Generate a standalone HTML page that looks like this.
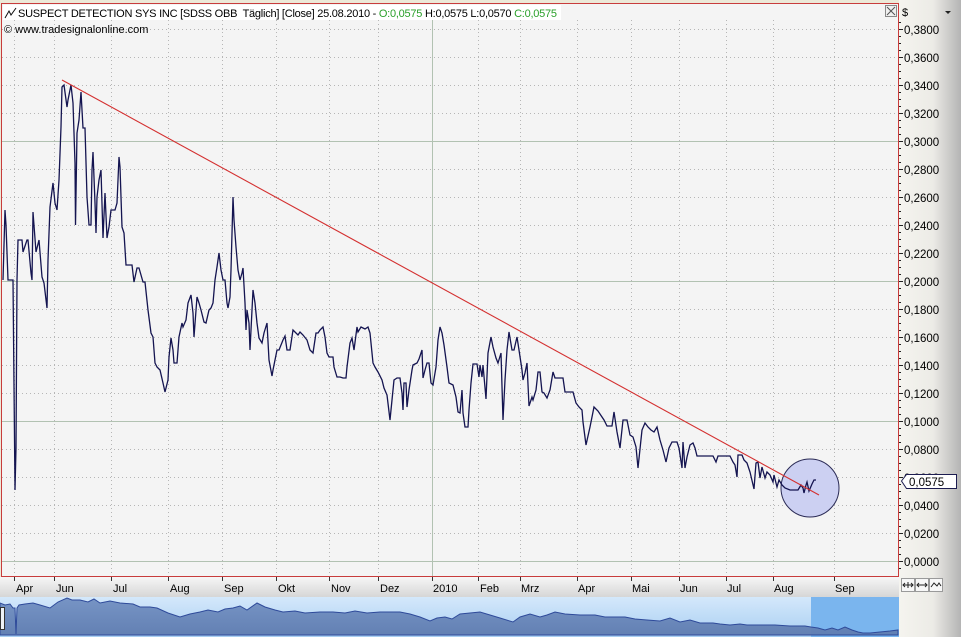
<!DOCTYPE html>
<html><head><meta charset="utf-8"><style>
html,body{margin:0;padding:0;background:#ece9d8;}
svg{display:block;font-family:"Liberation Sans","DejaVu Sans",sans-serif;}
</style></head><body>
<svg width="961" height="637" viewBox="0 0 961 637" xmlns="http://www.w3.org/2000/svg">
<defs>
<linearGradient id="rax" x1="0" y1="0" x2="1" y2="0">
<stop offset="0" stop-color="#f5f4ef"/><stop offset="0.55" stop-color="#ecebe6"/><stop offset="1" stop-color="#b4b4b4"/>
</linearGradient>
<linearGradient id="xax" x1="0" y1="0" x2="0" y2="1">
<stop offset="0" stop-color="#f6f6f6"/><stop offset="1" stop-color="#d6d6d6"/>
</linearGradient>
<linearGradient id="nav" x1="0" y1="0" x2="0" y2="1">
<stop offset="0" stop-color="#d4e8fb"/><stop offset="1" stop-color="#a9cff2"/>
</linearGradient>
<linearGradient id="navfill" x1="0" y1="0" x2="0" y2="1">
<stop offset="0" stop-color="#7290c2"/><stop offset="1" stop-color="#5f7cb0"/>
</linearGradient>
</defs>
<rect x="0" y="0" width="961" height="637" fill="#ece9d8"/>
<rect x="1" y="3" width="898" height="574" fill="#f4f4f4"/>
<rect x="899" y="0" width="62" height="637" fill="url(#rax)"/>
<rect x="3" y="5" width="558" height="15" fill="#ffffff"/>
<g stroke="#b6b6b6" stroke-width="1" stroke-dasharray="1,3">
<line x1="2" y1="29.5" x2="898" y2="29.5"/><line x1="2" y1="57.5" x2="898" y2="57.5"/>
<line x1="2" y1="85.5" x2="898" y2="85.5"/><line x1="2" y1="113.5" x2="898" y2="113.5"/>
<line x1="2" y1="169.5" x2="898" y2="169.5"/><line x1="2" y1="197.5" x2="898" y2="197.5"/>
<line x1="2" y1="225.5" x2="898" y2="225.5"/><line x1="2" y1="253.5" x2="898" y2="253.5"/>
<line x1="2" y1="309.5" x2="898" y2="309.5"/><line x1="2" y1="337.5" x2="898" y2="337.5"/>
<line x1="2" y1="365.5" x2="898" y2="365.5"/><line x1="2" y1="393.5" x2="898" y2="393.5"/>
<line x1="2" y1="449.5" x2="898" y2="449.5"/><line x1="2" y1="477.5" x2="898" y2="477.5"/>
<line x1="2" y1="505.5" x2="898" y2="505.5"/><line x1="2" y1="533.5" x2="898" y2="533.5"/>
</g>
<g stroke="#b6b6b6" stroke-width="1" stroke-dasharray="1,3">
<line x1="14.5" y1="20" x2="14.5" y2="576"/><line x1="54.5" y1="20" x2="54.5" y2="576"/>
<line x1="111.5" y1="20" x2="111.5" y2="576"/><line x1="168.5" y1="20" x2="168.5" y2="576"/>
<line x1="222.5" y1="20" x2="222.5" y2="576"/><line x1="276.5" y1="20" x2="276.5" y2="576"/>
<line x1="329.5" y1="20" x2="329.5" y2="576"/><line x1="378.5" y1="20" x2="378.5" y2="576"/>
<line x1="478.5" y1="20" x2="478.5" y2="576"/><line x1="520.5" y1="20" x2="520.5" y2="576"/>
<line x1="577.5" y1="20" x2="577.5" y2="576"/><line x1="631.5" y1="20" x2="631.5" y2="576"/>
<line x1="679.5" y1="20" x2="679.5" y2="576"/><line x1="726.5" y1="20" x2="726.5" y2="576"/>
<line x1="773.5" y1="20" x2="773.5" y2="576"/><line x1="834.5" y1="20" x2="834.5" y2="576"/>
</g>
<g stroke="#b2c2b2" stroke-width="1">
<line x1="2" y1="141.5" x2="898" y2="141.5"/><line x1="2" y1="281.5" x2="898" y2="281.5"/>
<line x1="2" y1="421.5" x2="898" y2="421.5"/><line x1="2" y1="561.5" x2="898" y2="561.5"/>
<line x1="432.5" y1="20" x2="432.5" y2="576"/>
</g>
<!-- circle (behind line) -->
<circle cx="810" cy="488" r="29" fill="#ccd0f2" stroke="#2a2a55" stroke-width="1"/>
<!-- price series -->
<polyline fill="none" stroke="#141450" stroke-width="1.3" stroke-linejoin="miter" points="
3,280 5,210 6,225 8,280 13,280 15,490 16,448 17,280 18,240 22,240 23,252 27,240 28,240 31,273 32,280 33,212 36,252 39,240 42,277 44,283 47,308 48,260 50,207 53,183 55,203 57,210 59,180 61,127 62,87 64,85 67,107 68,100 71,85 73,103 75,163 75.5,225 77,133 79,120 81,92 83,128 85,128 87,197 89,225 91,225 92,170 93,152 95,203 96,233 97,197 99,180 101,170 103,238 105,193 107,238 109,227 111,210 115,210 117,203 119,157 120,167 122,227 124,233 126,265 130,265 132,265 134,282 137,268 139,268 143,282 145,282 148,310 151,333 153,337 155,363 157,367 160,370 163,383 165,392 168,380 169,357 171,338 173,350 174,363 177,363 179,337 182,323 183,327 186,320 188,303 191,295 193,313 194,337 197,297 199,303 201,310 204,322 206,323 209,310 211,308 213,303 215,280 217,267 219,253 221,270 223,280 225,280 227,303 228,308 230,297 231,270 233,197 234,220 236,247 238,270 240,280 242,273 243,268 245,303 246,330 247,310 249,323 250,350 252,310 253,290 255,303 257,323 259,338
262,343 264,333 267,323 269,360 272,376 273,370 277,350 279,350 283,340 285,336 287,350 290,350 293,330 296,333 298,335 300,332 303,335 307,340 310,350 313,353 316,333 318,333 320,330 323,327 325,337 327,353 329,357 333,357 334,367 337,377 340,377 343,378 346,378 347,367 350,343 352,338 354,350 357,327 358,332 361,327 363,328 365,329 368,327 370,333 373,363 375,367 378,372 382,380 384,388 387,395 390,420 392,400 394,380 397,378 400,378 402,393 403,410 404,383 406,383 407,407 409,390 412,370 413,365 417,363 419,359 422,350 423,378 425,370 427,363 429,363 431,383 433,385 436,367 438,340 440,327 442,333 444,345 447,367 449,383 453,385 456,397 458,412 460,413 462,390 463,413 465,427 468,427 469,410 471,383 473,364 477,364 479,377 480,365 482,377 483,365 486,399 488,353 491,337 493,347 496,358 498,363 501,353 503,420 505,380 507,350 509,332 512,350 514,350 517,337 519,350 522,370 523,380 525,373 527,363 529,406 532,397 533,400 536,390 538,372 540,372 542,392 544,393 547,398 550,390 553,372 555,378 563,378 565,392 573,392 576,403 579,407 582,410 583,422 586,445 590,427 594,407 598,411 602,417 604,420 607,426 612,426 614,412 617,432 620,448 623,420 627,420 630,435 633,437 636,447 638,468 642,430 645,423 648,427 651,430 654,432 657,427 660,440 663,450 666,462 669,448 672,442 677,442 679,448 682,468 683,442 685,468 687,457 690,445 693,443 695,448 697,456 713,456 716,462 718,456 730,456 733,462 735,465 737,477 738,455 742,455 744,460 747,463 750,472 754,489 756,463 758,462 760,478 762,467 765,478 767,472 770,475 773,482 774,475 777,487 779,480 782,485 785,488 790,490 798,490 801,485 803,488 804,493 806,485 807,482 809,491 812,484 814,480 816,480"/>
<line x1="62" y1="80" x2="819" y2="495" stroke="#d43030" stroke-width="1.1"/>
<rect x="1.5" y="3.5" width="897" height="573" fill="none" stroke="#c83c3c" stroke-width="1"/>
<!-- title -->
<path d="M5,18 L9,11 L11,15 L16,8" fill="none" stroke="#101010" stroke-width="1"/>
<text x="18" y="17" font-size="11" fill="#000" textLength="539" lengthAdjust="spacing" style="white-space:pre">SUSPECT DETECTION SYS INC [SDSS OBB  Täglich] [Close] 25.08.2010 - <tspan fill="#2aa02a">O:0,0575</tspan> H:0,0575 L:0,0570 <tspan fill="#2aa02a">C:0,0575</tspan></text>
<text x="4" y="33" font-size="11" fill="#000">© www.tradesignalonline.com</text>
<rect x="885.5" y="5.5" width="11" height="11" fill="#f0f0f0" stroke="#888"/>
<path d="M887,7 L895,15 M895,7 L887,15" stroke="#555" stroke-width="1"/>
<text x="902" y="16" font-size="11" fill="#000">$</text>
<path d="M945,11 L951,11 L948,14 Z" fill="#222"/>
<g stroke="#222" stroke-width="1">
<line x1="899" y1="29.5" x2="903" y2="29.5"/><line x1="899" y1="57.5" x2="903" y2="57.5"/><line x1="899" y1="85.5" x2="903" y2="85.5"/><line x1="899" y1="113.5" x2="903" y2="113.5"/><line x1="899" y1="141.5" x2="903" y2="141.5"/><line x1="899" y1="169.5" x2="903" y2="169.5"/><line x1="899" y1="197.5" x2="903" y2="197.5"/><line x1="899" y1="225.5" x2="903" y2="225.5"/><line x1="899" y1="253.5" x2="903" y2="253.5"/><line x1="899" y1="281.5" x2="903" y2="281.5"/><line x1="899" y1="309.5" x2="903" y2="309.5"/><line x1="899" y1="337.5" x2="903" y2="337.5"/><line x1="899" y1="365.5" x2="903" y2="365.5"/><line x1="899" y1="393.5" x2="903" y2="393.5"/><line x1="899" y1="421.5" x2="903" y2="421.5"/><line x1="899" y1="449.5" x2="903" y2="449.5"/><line x1="899" y1="477.5" x2="903" y2="477.5"/><line x1="899" y1="505.5" x2="903" y2="505.5"/><line x1="899" y1="533.5" x2="903" y2="533.5"/><line x1="899" y1="561.5" x2="903" y2="561.5"/>
</g>
<g stroke="#222" stroke-width="1">
<line x1="899" y1="22.5" x2="901" y2="22.5"/><line x1="899" y1="36.5" x2="901" y2="36.5"/><line x1="899" y1="43.5" x2="901" y2="43.5"/><line x1="899" y1="50.5" x2="901" y2="50.5"/><line x1="899" y1="64.5" x2="901" y2="64.5"/><line x1="899" y1="71.5" x2="901" y2="71.5"/><line x1="899" y1="78.5" x2="901" y2="78.5"/><line x1="899" y1="92.5" x2="901" y2="92.5"/><line x1="899" y1="99.5" x2="901" y2="99.5"/><line x1="899" y1="106.5" x2="901" y2="106.5"/><line x1="899" y1="120.5" x2="901" y2="120.5"/><line x1="899" y1="127.5" x2="901" y2="127.5"/><line x1="899" y1="134.5" x2="901" y2="134.5"/><line x1="899" y1="148.5" x2="901" y2="148.5"/><line x1="899" y1="155.5" x2="901" y2="155.5"/><line x1="899" y1="162.5" x2="901" y2="162.5"/><line x1="899" y1="176.5" x2="901" y2="176.5"/><line x1="899" y1="183.5" x2="901" y2="183.5"/><line x1="899" y1="190.5" x2="901" y2="190.5"/><line x1="899" y1="204.5" x2="901" y2="204.5"/><line x1="899" y1="211.5" x2="901" y2="211.5"/><line x1="899" y1="218.5" x2="901" y2="218.5"/><line x1="899" y1="232.5" x2="901" y2="232.5"/><line x1="899" y1="239.5" x2="901" y2="239.5"/><line x1="899" y1="246.5" x2="901" y2="246.5"/><line x1="899" y1="260.5" x2="901" y2="260.5"/><line x1="899" y1="267.5" x2="901" y2="267.5"/><line x1="899" y1="274.5" x2="901" y2="274.5"/><line x1="899" y1="288.5" x2="901" y2="288.5"/><line x1="899" y1="295.5" x2="901" y2="295.5"/><line x1="899" y1="302.5" x2="901" y2="302.5"/><line x1="899" y1="316.5" x2="901" y2="316.5"/><line x1="899" y1="323.5" x2="901" y2="323.5"/><line x1="899" y1="330.5" x2="901" y2="330.5"/><line x1="899" y1="344.5" x2="901" y2="344.5"/><line x1="899" y1="351.5" x2="901" y2="351.5"/><line x1="899" y1="358.5" x2="901" y2="358.5"/><line x1="899" y1="372.5" x2="901" y2="372.5"/><line x1="899" y1="379.5" x2="901" y2="379.5"/><line x1="899" y1="386.5" x2="901" y2="386.5"/><line x1="899" y1="400.5" x2="901" y2="400.5"/><line x1="899" y1="407.5" x2="901" y2="407.5"/><line x1="899" y1="414.5" x2="901" y2="414.5"/><line x1="899" y1="428.5" x2="901" y2="428.5"/><line x1="899" y1="435.5" x2="901" y2="435.5"/><line x1="899" y1="442.5" x2="901" y2="442.5"/><line x1="899" y1="456.5" x2="901" y2="456.5"/><line x1="899" y1="463.5" x2="901" y2="463.5"/><line x1="899" y1="470.5" x2="901" y2="470.5"/><line x1="899" y1="484.5" x2="901" y2="484.5"/><line x1="899" y1="491.5" x2="901" y2="491.5"/><line x1="899" y1="498.5" x2="901" y2="498.5"/><line x1="899" y1="512.5" x2="901" y2="512.5"/><line x1="899" y1="519.5" x2="901" y2="519.5"/><line x1="899" y1="526.5" x2="901" y2="526.5"/><line x1="899" y1="540.5" x2="901" y2="540.5"/><line x1="899" y1="547.5" x2="901" y2="547.5"/><line x1="899" y1="554.5" x2="901" y2="554.5"/><line x1="899" y1="568.5" x2="901" y2="568.5"/>
</g>
<g font-size="11.5" fill="#000">
<text x="904" y="34">0,3800</text><text x="904" y="62">0,3600</text><text x="904" y="90">0,3400</text><text x="904" y="118">0,3200</text><text x="904" y="146">0,3000</text><text x="904" y="174">0,2800</text><text x="904" y="202">0,2600</text><text x="904" y="230">0,2400</text><text x="904" y="258">0,2200</text><text x="904" y="286">0,2000</text><text x="904" y="314">0,1800</text><text x="904" y="342">0,1600</text><text x="904" y="370">0,1400</text><text x="904" y="398">0,1200</text><text x="904" y="426">0,1000</text><text x="904" y="454">0,0800</text><text x="904" y="482">0,0600</text><text x="904" y="510">0,0400</text><text x="904" y="538">0,0200</text><text x="904" y="566">0,0000</text>
</g>
<path d="M901.5,481 L906.5,474.5 L956.5,474.5 L956.5,488.5 L906.5,488.5 Z" fill="#ffffff" stroke="#1c1c50" stroke-width="1"/>
<text x="909" y="486" font-size="11.5" fill="#000">0,0575</text>
<rect x="0" y="577" width="899" height="20" fill="url(#xax)"/>
<g stroke="#333" stroke-width="1">
<line x1="14.5" y1="577" x2="14.5" y2="581"/><line x1="54.5" y1="577" x2="54.5" y2="581"/><line x1="111.5" y1="577" x2="111.5" y2="581"/><line x1="168.5" y1="577" x2="168.5" y2="581"/><line x1="222.5" y1="577" x2="222.5" y2="581"/><line x1="276.5" y1="577" x2="276.5" y2="581"/><line x1="329.5" y1="577" x2="329.5" y2="581"/><line x1="378.5" y1="577" x2="378.5" y2="581"/><line x1="432.5" y1="577" x2="432.5" y2="581"/><line x1="478.5" y1="577" x2="478.5" y2="581"/><line x1="520.5" y1="577" x2="520.5" y2="581"/><line x1="577.5" y1="577" x2="577.5" y2="581"/><line x1="631.5" y1="577" x2="631.5" y2="581"/><line x1="679.5" y1="577" x2="679.5" y2="581"/><line x1="726.5" y1="577" x2="726.5" y2="581"/><line x1="773.5" y1="577" x2="773.5" y2="581"/><line x1="834.5" y1="577" x2="834.5" y2="581"/>
</g>
<g font-size="11" fill="#000">
<text x="16" y="592">Apr</text><text x="56" y="592">Jun</text><text x="113" y="592">Jul</text><text x="170" y="592">Aug</text><text x="224" y="592">Sep</text><text x="278" y="592">Okt</text><text x="331" y="592">Nov</text><text x="380" y="592">Dez</text><text x="433" y="592">2010</text><text x="480" y="592">Feb</text><text x="521" y="592">Mrz</text><text x="578" y="592">Apr</text><text x="632" y="592">Mai</text><text x="680" y="592">Jun</text><text x="727" y="592">Jul</text><text x="774" y="592">Aug</text><text x="835" y="592">Sep</text>
</g>
<rect x="0" y="597" width="899" height="40" fill="url(#nav)"/>
<rect x="811" y="597" width="88" height="40" fill="#7ab5ee"/>
<polygon fill="url(#navfill)" fill-opacity="0.95" stroke="#2e4a9a" stroke-width="1" points="0,635 0,603 5,605 10,604 13,608 15,608 16,634 17,608 19,605 25,604 33,603 40,605 50,608 58,602 67,598 72,600 80,600 88,602 94,599 100,603 110,601 120,603 133,604 140,607 150,607 157,608 168,613 180,617 190,614 200,612 208,610 218,612 225,609 233,608 240,606 247,610 257,603 265,607 275,610 283,612 295,611 305,613 320,612 333,612 345,613 355,611 367,613 380,612 390,612 400,612 410,614 420,617 430,621 437,618 445,617 452,619 460,614 470,613 480,612 490,615 500,618 513,622 520,617 530,614 540,617 547,615 555,612 565,614 580,615 595,615 605,617 613,617 625,617 635,619 647,620 660,621 670,618 680,622 690,620 700,623 713,623 720,624 730,625 740,624 747,625 760,625 775,625 790,626 805,626 811,627 818,628 825,630 832,628 838,630 845,627 852,630 858,632 863,633 870,633 880,632 890,631 898,630 898,635"/>
<rect x="0.5" y="607.5" width="4" height="22" fill="#eef2f6" stroke="#333" stroke-width="1"/>
<g fill="#f7f7f7" stroke="#9a9a9a" stroke-width="1">
<rect x="901.5" y="578.5" width="13" height="13"/><rect x="915.5" y="578.5" width="13" height="13"/><rect x="929.5" y="578.5" width="13" height="13"/>
</g>
<g fill="none" stroke="#222" stroke-width="1">
<path d="M903,585 L913,585 M905,583 L903,585 L905,587 M911,583 L913,585 L911,587 M908,582 L908,588"/>
<path d="M917,585 L927,585 M919,583 L917,585 L919,587 M925,583 L927,585 L925,587"/>
<path d="M931,587 L934,583 L937,586 L939,583 L941,586"/>
</g>
</svg>
</body></html>
